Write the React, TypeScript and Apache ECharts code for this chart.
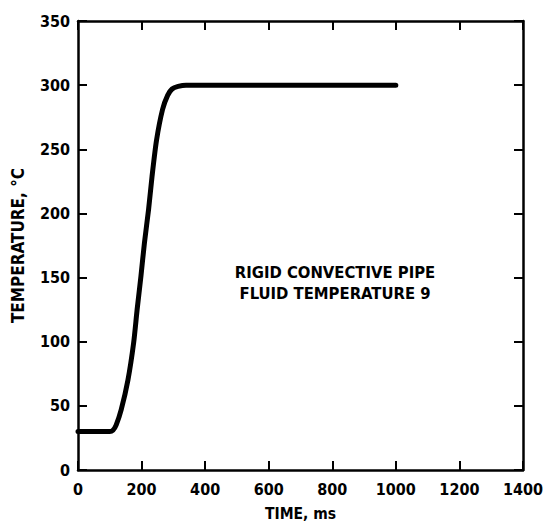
import React, { useEffect, useRef } from "react";
import * as echarts from "echarts";

const timeMs = [0, 100, 110, 120, 136, 157, 175, 186, 198, 209, 222, 233, 247, 266, 282, 296, 315, 340, 1000];
const tempC = [30, 30, 31, 35, 47, 70, 99, 125, 151, 177, 203, 229, 257, 281, 292, 297, 299, 300, 300];
const annotationLines = ["RIGID CONVECTIVE PIPE", "FLUID TEMPERATURE 9"];
const xTitle = "TIME, ms";
const yTitle = "TEMPERATURE, °C";

const FONT = "'DejaVu Sans Condensed', 'Liberation Sans Narrow', 'DejaVu Sans', sans-serif";

export default function App() {
  const ref = useRef<HTMLDivElement>(null);
  useEffect(() => {
    document.body.style.margin = "0";
    const chart = echarts.init(ref.current!, null, { renderer: "svg" });
    const axisLine = { show: true, onZero: false, lineStyle: { color: "#000", width: 2.5 } };
    const tick = { show: true, inside: true, length: 9, lineStyle: { color: "#000", width: 2 } };
    const label = {
      color: "#000", fontFamily: FONT, fontWeight: "bold" as const, fontSize: 16,
      formatter: (v: number) => String(v),
    };
    chart.setOption({
      animation: false,
      backgroundColor: "#fff",
      grid: { left: 78, top: 21, right: 19, bottom: 57 },
      xAxis: [
        {
          type: "value", min: 0, max: 1400, interval: 200,
          axisLine, axisTick: tick, splitLine: { show: false },
          axisLabel: { ...label, margin: 11, showMaxLabel: true, showMinLabel: true },
          name: xTitle, nameLocation: "middle", nameGap: 36,
          nameTextStyle: { color: "#000", fontFamily: FONT, fontWeight: "bold", fontSize: 15.5 },
        },
        {
          type: "value", position: "top", min: 0, max: 1400, interval: 200,
          axisLine, axisTick: tick, splitLine: { show: false }, axisLabel: { show: false },
        },
      ],
      yAxis: [
        {
          type: "value", min: 0, max: 350, interval: 50,
          axisLine, axisTick: tick, splitLine: { show: false },
          axisLabel: { ...label, margin: 8 },
          name: yTitle, nameLocation: "middle", nameGap: 52, nameRotate: 90,
          nameTextStyle: { color: "#000", fontFamily: FONT, fontWeight: "bold", fontSize: 17 },
        },
        {
          type: "value", position: "right", min: 0, max: 350, interval: 50,
          axisLine, axisTick: tick, splitLine: { show: false }, axisLabel: { show: false },
        },
      ],
      series: [
        {
          type: "line",
          data: timeMs.map((t, i) => [t, tempC[i]]),
          smooth: 0.25,
          showSymbol: false,
          lineStyle: { color: "#000", width: 5, cap: "round", join: "round" },
        },
      ],
      graphic: [
        {
          type: "text",
          x: 335,
          y: 262,
          style: {
            text: annotationLines.join("\n"),
            fill: "#000",
            font: `bold 16.5px ${FONT}`,
            align: "center",
            lineHeight: 21,
          },
        },
      ],
    });
    return () => chart.dispose();
  }, []);
  return <div ref={ref} style={{ width: 546, height: 527 }} />;
}
